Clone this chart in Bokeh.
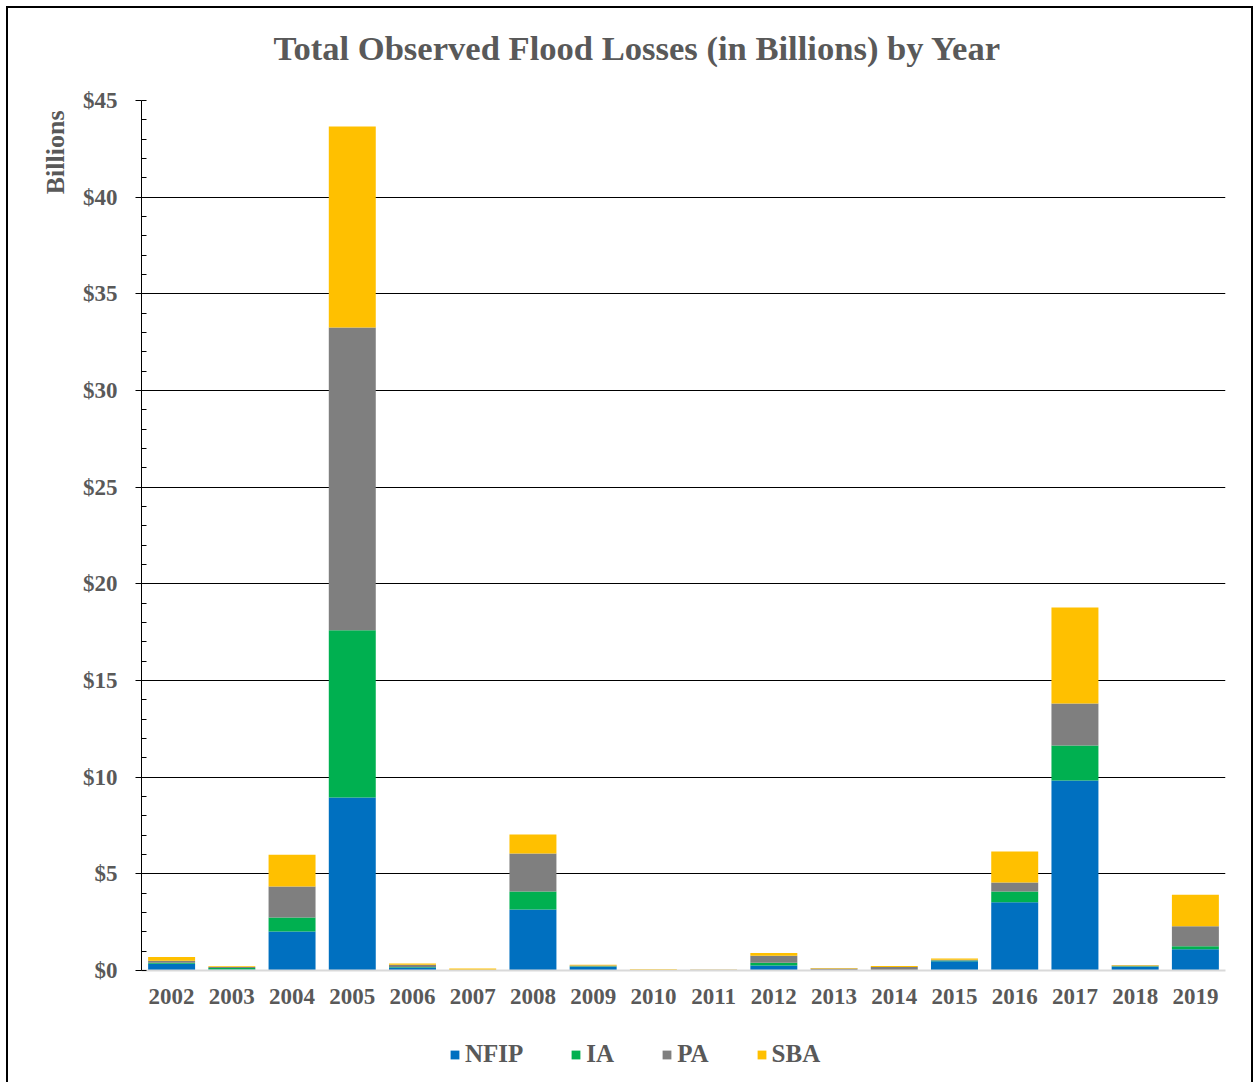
from bokeh.plotting import figure
from bokeh.layouts import column
from bokeh.models import (FactorRange, Range1d, SingleIntervalTicker, PrintfTickFormatter,
                          Legend, LegendItem, Title, Label)
from bokeh.embed import file_html
from bokeh.resources import INLINE

years = ["2002", "2003", "2004", "2005", "2006", "2007", "2008", "2009", "2010",
         "2011", "2012", "2013", "2014", "2015", "2016", "2017", "2018", "2019"]
nfip = [0.35, 0.05, 2.02, 8.95, 0.15, 0.01, 3.16, 0.20, 0.01, 0.01, 0.26, 0.02, 0.02, 0.48, 3.53, 9.83, 0.20, 1.10]
ia   = [0.05, 0.08, 0.72, 8.65, 0.03, 0.00, 0.93, 0.02, 0.00, 0.00, 0.14, 0.01, 0.01, 0.04, 0.56, 1.81, 0.02, 0.16]
pa   = [0.10, 0.05, 1.60, 15.66, 0.12, 0.02, 1.96, 0.04, 0.02, 0.03, 0.36, 0.07, 0.15, 0.03, 0.46, 2.17, 0.04, 1.03]
sba  = [0.20, 0.04, 1.65, 10.40, 0.06, 0.07, 0.99, 0.04, 0.04, 0.01, 0.14, 0.03, 0.05, 0.07, 1.61, 4.97, 0.03, 1.63]
series = ["NFIP", "IA", "PA", "SBA"]
colors = ["#0070C0", "#00B050", "#7F7F7F", "#FFC000"]
title_text = "Total Observed Flood Losses (in Billions) by Year"

FONT = "Liberation Serif"
GRAY = "#595959"
W = 1243
BL, BR = 133, 26
FW = W - BL - BR

data = dict(year=years, NFIP=nfip, IA=ia, PA=pa, SBA=sba)

def strip(height):
    f = figure(width=W, height=height, x_range=Range1d(0, FW), y_range=Range1d(0, height),
               output_backend="svg", toolbar_location=None,
               x_axis_location=None, y_axis_location=None,
               min_border_left=BL, min_border_right=BR, min_border_top=0, min_border_bottom=0)
    f.grid.visible = False
    f.outline_line_color = None
    return f

# title strip
ts = strip(77)
ts.add_layout(Label(x=132, y=38, text=title_text, text_align="left", text_baseline="middle",
                    text_font=FONT, text_font_size="34.6px", text_font_style="bold",
                    text_color=GRAY))

# main chart
p = figure(x_range=FactorRange(*years), y_range=Range1d(0, 45),
           width=W, height=945, output_backend="svg", toolbar_location=None,
           min_border_left=BL, min_border_right=BR, min_border_top=15, min_border_bottom=60)

ylab = Title(text="Billions", align="right", offset=10, standoff=19,
             text_font=FONT, text_font_size="26px", text_font_style="bold",
             text_color=GRAY)
p.add_layout(ylab, "left")

p.vbar_stack(series, x="year", width=0.78, source=data, color=colors, line_color=None)

p.xgrid.grid_line_color = None
p.ygrid.grid_line_color = "black"
p.ygrid.grid_line_width = 1
p.outline_line_color = None

p.yaxis.ticker = SingleIntervalTicker(interval=5, num_minor_ticks=5)
p.yaxis.formatter = PrintfTickFormatter(format="$%d")
p.yaxis.axis_line_color = "black"
p.yaxis.major_tick_line_color = "black"
p.yaxis.minor_tick_line_color = "black"
p.yaxis.major_tick_out = 6
p.yaxis.major_tick_in = 0
p.yaxis.minor_tick_out = 0
p.yaxis.minor_tick_in = 5
p.yaxis.major_label_standoff = 18

p.xaxis.axis_line_color = "#D9D9D9"
p.xaxis.axis_line_width = 2
p.xaxis.major_tick_line_color = None
p.xaxis.minor_tick_line_color = None
p.xaxis.major_label_standoff = 12

for ax in (p.xaxis, p.yaxis):
    ax.major_label_text_font = FONT
    ax.major_label_text_font_size = "23px"
    ax.major_label_text_font_style = "bold"
    ax.major_label_text_color = GRAY

# legend strip
lg = strip(60)
items = []
for s, c in zip(series, colors):
    r = lg.rect(x=[-50], y=[-50], width=1, height=1, fill_color=c, line_color=None)
    items.append(LegendItem(label=s, renderers=[r]))
legend = Legend(items=items, orientation="horizontal", location=(308, 22),
                label_text_font=FONT, label_text_font_size="25px",
                label_text_font_style="bold", label_text_color=GRAY,
                glyph_width=11, glyph_height=11, spacing=47, label_standoff=5,
                padding=0, margin=0, border_line_color=None, background_fill_alpha=0)
lg.add_layout(legend, "center")

layout = column(ts, p, lg, spacing=0,
                styles={"border": "2px solid black", "margin-left": "6px", "margin-top": "6px"})

open("out.html", "w").write(file_html(layout, INLINE))
